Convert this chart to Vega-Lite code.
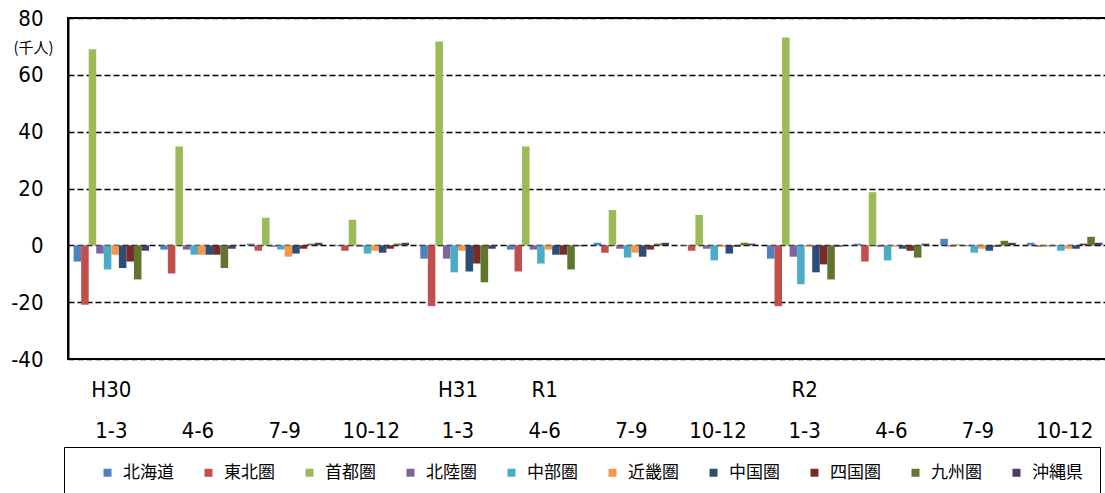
{
  "$schema": "https://vega.github.io/schema/vega-lite/v6.json",
  "autosize": {"type": "none"},
  "padding": {"left": 68, "top": 18, "right": 0, "bottom": 134},
  "width": 1040,
  "height": 341,
  "background": "#ffffff",
  "config": {
    "view": {"stroke": "#000000", "strokeWidth": 2},
    "axis": {"labelColor": "#000000", "titleColor": "#000000"}
  },
  "data": {
    "values": [
      {"p": "H30 1-3", "r": "北海道", "v": -5.7}, {"p": "H30 1-3", "r": "東北圏", "v": -20.9}, {"p": "H30 1-3", "r": "首都圏", "v": 69.0}, {"p": "H30 1-3", "r": "北陸圏", "v": -2.9}, {"p": "H30 1-3", "r": "中部圏", "v": -8.5}, {"p": "H30 1-3", "r": "近畿圏", "v": -3.3}, {"p": "H30 1-3", "r": "中国圏", "v": -8.0}, {"p": "H30 1-3", "r": "四国圏", "v": -5.7}, {"p": "H30 1-3", "r": "九州圏", "v": -12.0}, {"p": "H30 1-3", "r": "沖縄県", "v": -1.9},
      {"p": "H30 4-6", "r": "北海道", "v": -1.5}, {"p": "H30 4-6", "r": "東北圏", "v": -9.9}, {"p": "H30 4-6", "r": "首都圏", "v": 34.8}, {"p": "H30 4-6", "r": "北陸圏", "v": -1.5}, {"p": "H30 4-6", "r": "中部圏", "v": -3.3}, {"p": "H30 4-6", "r": "近畿圏", "v": -3.3}, {"p": "H30 4-6", "r": "中国圏", "v": -3.3}, {"p": "H30 4-6", "r": "四国圏", "v": -3.3}, {"p": "H30 4-6", "r": "九州圏", "v": -8.0}, {"p": "H30 4-6", "r": "沖縄県", "v": -1.2},
      {"p": "H30 7-9", "r": "北海道", "v": 0.6}, {"p": "H30 7-9", "r": "東北圏", "v": -1.9}, {"p": "H30 7-9", "r": "首都圏", "v": 9.7}, {"p": "H30 7-9", "r": "北陸圏", "v": -0.5}, {"p": "H30 7-9", "r": "中部圏", "v": -1.5}, {"p": "H30 7-9", "r": "近畿圏", "v": -4.0}, {"p": "H30 7-9", "r": "中国圏", "v": -2.9}, {"p": "H30 7-9", "r": "四国圏", "v": -1.2}, {"p": "H30 7-9", "r": "九州圏", "v": 0.6}, {"p": "H30 7-9", "r": "沖縄県", "v": 0.9},
      {"p": "H30 10-12", "r": "北海道", "v": -0.2}, {"p": "H30 10-12", "r": "東北圏", "v": -1.9}, {"p": "H30 10-12", "r": "首都圏", "v": 9.0}, {"p": "H30 10-12", "r": "北陸圏", "v": -0.5}, {"p": "H30 10-12", "r": "中部圏", "v": -2.9}, {"p": "H30 10-12", "r": "近畿圏", "v": -1.9}, {"p": "H30 10-12", "r": "中国圏", "v": -2.6}, {"p": "H30 10-12", "r": "四国圏", "v": -1.2}, {"p": "H30 10-12", "r": "九州圏", "v": 0.6}, {"p": "H30 10-12", "r": "沖縄県", "v": 0.9},
      {"p": "H31 1-3", "r": "北海道", "v": -4.7}, {"p": "H31 1-3", "r": "東北圏", "v": -21.4}, {"p": "H31 1-3", "r": "首都圏", "v": 71.7}, {"p": "H31 1-3", "r": "北陸圏", "v": -4.7}, {"p": "H31 1-3", "r": "中部圏", "v": -9.5}, {"p": "H31 1-3", "r": "近畿圏", "v": -1.9}, {"p": "H31 1-3", "r": "中国圏", "v": -9.2}, {"p": "H31 1-3", "r": "四国圏", "v": -6.4}, {"p": "H31 1-3", "r": "九州圏", "v": -13.0}, {"p": "H31 1-3", "r": "沖縄県", "v": -1.2},
      {"p": "R1 4-6", "r": "北海道", "v": -1.5}, {"p": "R1 4-6", "r": "東北圏", "v": -9.2}, {"p": "R1 4-6", "r": "首都圏", "v": 34.8}, {"p": "R1 4-6", "r": "北陸圏", "v": -1.5}, {"p": "R1 4-6", "r": "中部圏", "v": -6.4}, {"p": "R1 4-6", "r": "近畿圏", "v": -1.5}, {"p": "R1 4-6", "r": "中国圏", "v": -3.3}, {"p": "R1 4-6", "r": "四国圏", "v": -3.3}, {"p": "R1 4-6", "r": "九州圏", "v": -8.5}, {"p": "R1 4-6", "r": "沖縄県", "v": -0.3},
      {"p": "R1 7-9", "r": "北海道", "v": 0.9}, {"p": "R1 7-9", "r": "東北圏", "v": -2.6}, {"p": "R1 7-9", "r": "首都圏", "v": 12.4}, {"p": "R1 7-9", "r": "北陸圏", "v": -1.2}, {"p": "R1 7-9", "r": "中部圏", "v": -4.3}, {"p": "R1 7-9", "r": "近畿圏", "v": -2.6}, {"p": "R1 7-9", "r": "中国圏", "v": -4.0}, {"p": "R1 7-9", "r": "四国圏", "v": -1.5}, {"p": "R1 7-9", "r": "九州圏", "v": 0.6}, {"p": "R1 7-9", "r": "沖縄県", "v": 0.9},
      {"p": "R1 10-12", "r": "北海道", "v": -0.2}, {"p": "R1 10-12", "r": "東北圏", "v": -1.9}, {"p": "R1 10-12", "r": "首都圏", "v": 10.7}, {"p": "R1 10-12", "r": "北陸圏", "v": -1.2}, {"p": "R1 10-12", "r": "中部圏", "v": -5.3}, {"p": "R1 10-12", "r": "近畿圏", "v": -0.5}, {"p": "R1 10-12", "r": "中国圏", "v": -2.9}, {"p": "R1 10-12", "r": "四国圏", "v": -0.5}, {"p": "R1 10-12", "r": "九州圏", "v": 0.9}, {"p": "R1 10-12", "r": "沖縄県", "v": 0.6},
      {"p": "R2 1-3", "r": "北海道", "v": -4.7}, {"p": "R2 1-3", "r": "東北圏", "v": -21.4}, {"p": "R2 1-3", "r": "首都圏", "v": 73.1}, {"p": "R2 1-3", "r": "北陸圏", "v": -4.0}, {"p": "R2 1-3", "r": "中部圏", "v": -13.7}, {"p": "R2 1-3", "r": "近畿圏", "v": -0.5}, {"p": "R2 1-3", "r": "中国圏", "v": -9.5}, {"p": "R2 1-3", "r": "四国圏", "v": -6.7}, {"p": "R2 1-3", "r": "九州圏", "v": -12.0}, {"p": "R2 1-3", "r": "沖縄県", "v": -0.5},
      {"p": "R2 4-6", "r": "北海道", "v": 0.6}, {"p": "R2 4-6", "r": "東北圏", "v": -5.7}, {"p": "R2 4-6", "r": "首都圏", "v": 18.7}, {"p": "R2 4-6", "r": "北陸圏", "v": -0.5}, {"p": "R2 4-6", "r": "中部圏", "v": -5.3}, {"p": "R2 4-6", "r": "近畿圏", "v": -0.5}, {"p": "R2 4-6", "r": "中国圏", "v": -1.2}, {"p": "R2 4-6", "r": "四国圏", "v": -1.9}, {"p": "R2 4-6", "r": "九州圏", "v": -4.3}, {"p": "R2 4-6", "r": "沖縄県", "v": 0.6},
      {"p": "R2 7-9", "r": "北海道", "v": 2.3}, {"p": "R2 7-9", "r": "東北圏", "v": -0.4}, {"p": "R2 7-9", "r": "首都圏", "v": 0.4}, {"p": "R2 7-9", "r": "北陸圏", "v": -0.3}, {"p": "R2 7-9", "r": "中部圏", "v": -2.6}, {"p": "R2 7-9", "r": "近畿圏", "v": -1.2}, {"p": "R2 7-9", "r": "中国圏", "v": -1.9}, {"p": "R2 7-9", "r": "四国圏", "v": -0.5}, {"p": "R2 7-9", "r": "九州圏", "v": 1.6}, {"p": "R2 7-9", "r": "沖縄県", "v": 0.9},
      {"p": "R2 10-12", "r": "北海道", "v": 0.9}, {"p": "R2 10-12", "r": "東北圏", "v": -0.5}, {"p": "R2 10-12", "r": "首都圏", "v": -0.5}, {"p": "R2 10-12", "r": "北陸圏", "v": -0.3}, {"p": "R2 10-12", "r": "中部圏", "v": -1.9}, {"p": "R2 10-12", "r": "近畿圏", "v": -1.2}, {"p": "R2 10-12", "r": "中国圏", "v": -1.2}, {"p": "R2 10-12", "r": "四国圏", "v": 0.6}, {"p": "R2 10-12", "r": "九州圏", "v": 3.0}, {"p": "R2 10-12", "r": "沖縄県", "v": 0.9}
    ]
  },
  "mark": {"type": "bar"},
  "encoding": {
    "x": {
      "field": "p",
      "type": "nominal",
      "sort": null,
      "scale": {"paddingInner": 0.13, "paddingOuter": 0.065},
      "axis": {
        "title": null,
        "domain": false,
        "ticks": false,
        "labelAngle": 0,
        "labelFont": "Liberation Sans Narrow, DejaVu Sans Condensed, sans-serif",
        "labelFontSize": 22,
        "labelPadding": 20,
        "labelLineHeight": 41,
        "labelBaseline": "top",
        "labelExpr": "[(split(datum.value, ' ')[1] == '1-3' || datum.value == 'R1 4-6') ? split(datum.value, ' ')[0] : '', split(datum.value, ' ')[1]]"
      }
    },
    "xOffset": {"field": "r", "type": "nominal", "sort": null, "scale": {"paddingInner": 0, "paddingOuter": 0}},
    "y": {
      "field": "v",
      "type": "quantitative",
      "scale": {"domain": [-40, 80], "nice": false, "zero": false},
      "axis": {
        "values": [-40, -20, 0, 20, 40, 60, 80],
        "labelExpr": "'' + datum.value",
        "labelFont": "Liberation Sans Narrow, DejaVu Sans Condensed, sans-serif",
        "labelFontSize": 22,
        "labelPadding": 25,
        "ticks": false,
        "domainColor": "#000000",
        "domainWidth": 2,
        "gridColor": "#000000",
        "gridWidth": 1.5,
        "gridDash": [6, 3],
        "title": "(千人)",
        "titleAngle": 0,
        "titleFont": "Noto Sans CJK JP",
        "titleFontSize": 15,
        "titleFontWeight": "normal",
        "titleAlign": "center",
        "titleBaseline": "middle",
        "titleX": -35,
        "titleY": 29
      }
    },
    "color": {
      "field": "r",
      "type": "nominal",
      "sort": null,
      "scale": {
        "domain": ["北海道", "東北圏", "首都圏", "北陸圏", "中部圏", "近畿圏", "中国圏", "四国圏", "九州圏", "沖縄県"],
        "range": ["#4F81BD", "#C0504D", "#9BBB59", "#8064A2", "#4BACC6", "#F79646", "#2C4D75", "#772C2A", "#5F7530", "#4D3B62"]
      },
      "legend": {
        "title": null,
        "orient": "none",
        "legendX": -4,
        "legendY": 429,
        "direction": "horizontal",
        "columns": 10,
        "symbolType": "square",
        "symbolSize": 64,
        "symbolStrokeWidth": 0,
        "symbolOffset": 18,
        "labelFont": "Noto Sans CJK JP",
        "labelFontSize": 17,
        "labelColor": "#000000",
        "labelOffset": 7,
        "columnPadding": 8,
        "padding": 17,
        "strokeColor": "#000000"
      }
    }
  }
}
